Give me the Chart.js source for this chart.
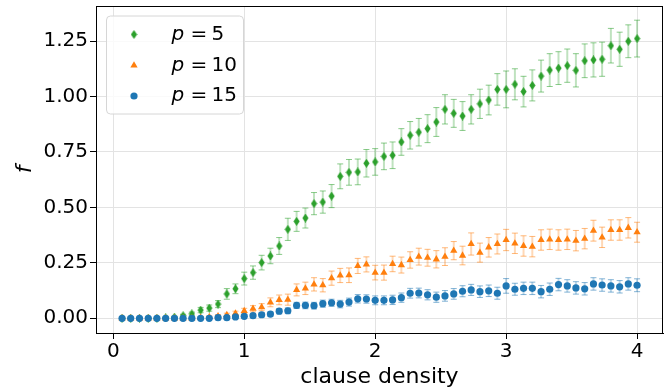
<!DOCTYPE html>
<html>
<head>
<meta charset="utf-8">
<script src="https://cdn.jsdelivr.net/npm/chart.js@4.4.1/dist/chart.umd.min.js"></script>
<style>
  html, body { margin: 0; padding: 0; background: #fff; }
  #wrap { width: 669px; height: 392px; }
</style>
</head>
<body>
<div id="wrap"><canvas id="myChart"></canvas></div>
<script>
// clause density (x)
const density = [
  0.067, 0.133, 0.200, 0.267, 0.333, 0.400, 0.467, 0.533, 0.600, 0.667,
  0.733, 0.800, 0.867, 0.933, 1.000, 1.067, 1.133, 1.200, 1.267, 1.333,
  1.400, 1.467, 1.533, 1.600, 1.667, 1.733, 1.800, 1.867, 1.933, 2.000,
  2.067, 2.133, 2.200, 2.267, 2.333, 2.400, 2.467, 2.533, 2.600, 2.667,
  2.733, 2.800, 2.867, 2.933, 3.000, 3.067, 3.133, 3.200, 3.267, 3.333,
  3.400, 3.467, 3.533, 3.600, 3.667, 3.733, 3.800, 3.867, 3.933, 4.000
];

const f_p5 = [
  0, 0, 0, 0, 0, 0.002, 0.005, 0.012, 0.020, 0.037,
  0.046, 0.064, 0.110, 0.133, 0.179, 0.206, 0.251, 0.281, 0.326, 0.401,
  0.437, 0.452, 0.517, 0.524, 0.551, 0.640, 0.658, 0.660, 0.699, 0.705,
  0.730, 0.735, 0.795, 0.825, 0.839, 0.855, 0.885, 0.942, 0.924, 0.912,
  0.942, 0.967, 0.984, 1.032, 1.032, 1.055, 1.022, 1.050, 1.092, 1.119,
  1.128, 1.139, 1.118, 1.161, 1.165, 1.168, 1.229, 1.213, 1.249, 1.261
];
const err_p5 = [
  0.002, 0.002, 0.002, 0.002, 0.002, 0.003, 0.004, 0.006, 0.008, 0.012,
  0.014, 0.016, 0.024, 0.022, 0.029, 0.030, 0.033, 0.035, 0.038, 0.050,
  0.045, 0.045, 0.050, 0.050, 0.052, 0.056, 0.058, 0.058, 0.062, 0.060,
  0.060, 0.060, 0.060, 0.062, 0.062, 0.063, 0.065, 0.066, 0.063, 0.065,
  0.066, 0.066, 0.067, 0.071, 0.083, 0.070, 0.069, 0.070, 0.072, 0.074,
  0.074, 0.075, 0.075, 0.076, 0.077, 0.077, 0.078, 0.077, 0.074, 0.083
];

const f_p10 = [
  0, 0, 0, 0, 0, 0, 0, 0, 0, 0.003,
  0.006, 0.010, 0.015, 0.022, 0.033, 0.043, 0.050, 0.072, 0.083, 0.084,
  0.128, 0.135, 0.153, 0.149, 0.181, 0.193, 0.194, 0.236, 0.243, 0.206,
  0.206, 0.245, 0.240, 0.263, 0.278, 0.273, 0.266, 0.278, 0.305, 0.283,
  0.335, 0.296, 0.320, 0.335, 0.353, 0.338, 0.326, 0.323, 0.353, 0.356,
  0.353, 0.356, 0.350, 0.359, 0.395, 0.365, 0.398, 0.398, 0.408, 0.388
];
const err_p10 = [
  0.002, 0.002, 0.002, 0.002, 0.002, 0.002, 0.002, 0.002, 0.002, 0.004,
  0.005, 0.007, 0.008, 0.010, 0.012, 0.014, 0.016, 0.020, 0.022, 0.025,
  0.027, 0.028, 0.030, 0.030, 0.032, 0.032, 0.033, 0.034, 0.034, 0.033,
  0.034, 0.035, 0.036, 0.037, 0.038, 0.038, 0.039, 0.040, 0.041, 0.042,
  0.050, 0.043, 0.044, 0.045, 0.048, 0.046, 0.046, 0.046, 0.046, 0.046,
  0.046, 0.046, 0.046, 0.046, 0.047, 0.046, 0.046, 0.046, 0.046, 0.045
];

const f_p15 = [
  0, 0, 0, 0, 0, 0, 0, 0, 0, 0,
  0, 0.003, 0.003, 0.006, 0.009, 0.012, 0.016, 0.019, 0.032, 0.034,
  0.058, 0.058, 0.057, 0.066, 0.070, 0.064, 0.073, 0.088, 0.087, 0.081,
  0.081, 0.083, 0.093, 0.113, 0.114, 0.106, 0.095, 0.101, 0.110, 0.122,
  0.128, 0.120, 0.124, 0.113, 0.146, 0.131, 0.135, 0.135, 0.120, 0.131,
  0.152, 0.146, 0.137, 0.133, 0.155, 0.150, 0.146, 0.142, 0.155, 0.149
];
const err_p15 = [
  0.002, 0.002, 0.002, 0.002, 0.002, 0.002, 0.002, 0.002, 0.002, 0.002,
  0.002, 0.005, 0.006, 0.007, 0.008, 0.009, 0.010, 0.010, 0.012, 0.013,
  0.014, 0.015, 0.015, 0.016, 0.016, 0.017, 0.018, 0.019, 0.019, 0.020,
  0.020, 0.021, 0.021, 0.022, 0.022, 0.023, 0.023, 0.024, 0.024, 0.025,
  0.025, 0.026, 0.026, 0.027, 0.033, 0.027, 0.028, 0.028, 0.028, 0.028,
  0.028, 0.028, 0.028, 0.028, 0.028, 0.028, 0.028, 0.028, 0.028, 0.029
];

const seriesLabels = ['5', '10', '15'];
const xTicks = [0, 1, 2, 3, 4];
const yTicks = [0, 0.25, 0.5, 0.75, 1.0, 1.25];

const FONT = "'DejaVu Sans', sans-serif";

// thin diamond like matplotlib 'd'
function thinDiamond(color) {
  const c = document.createElement('canvas');
  c.width = 7; c.height = 9;
  const x = c.getContext('2d');
  x.fillStyle = color;
  x.beginPath();
  x.moveTo(3.5, 0); x.lineTo(6.6, 4.5); x.lineTo(3.5, 9); x.lineTo(0.4, 4.5);
  x.closePath(); x.fill();
  return c;
}

const green = '#2ca02c', orange = '#ff7f0e', blue = '#1f77b4';

const pts = (ys) => density.map((d, i) => ({x: d, y: ys[i]}));

const datasets = [
  {label: seriesLabels[0], data: pts(f_p5), err: err_p5, color: green,
   pointStyle: thinDiamond(green), order: 3},
  {label: seriesLabels[1], data: pts(f_p10), err: err_p10, color: orange,
   pointStyle: 'triangle', pointRadius: 4.2, order: 2},
  {label: seriesLabels[2], data: pts(f_p15), err: err_p15, color: blue,
   pointStyle: 'circle', pointRadius: 3.6, order: 1},
];
datasets.forEach(ds => {
  ds.backgroundColor = ds.color;
  ds.borderColor = ds.color;
  ds.borderWidth = 0;
  ds.showLine = false;
});

function rgba(hex, a) {
  const n = parseInt(hex.slice(1), 16);
  return `rgba(${n >> 16},${(n >> 8) & 255},${n & 255},${a})`;
}

const errorBars = {
  id: 'errorBars',
  beforeDatasetsDraw(chart) {
    const ctx = chart.ctx, ys = chart.scales.y;
    chart.data.datasets.forEach((ds, di) => {
      const meta = chart.getDatasetMeta(di);
      ctx.save();
      meta.data.forEach((pt, i) => {
        const v = ds.data[i].y, e = ds.err[i];
        const top = ys.getPixelForValue(v + e), bot = ys.getPixelForValue(v - e);
        ctx.strokeStyle = rgba(ds.color, 0.3);
        ctx.lineWidth = 2;
        ctx.beginPath(); ctx.moveTo(pt.x, top); ctx.lineTo(pt.x, bot); ctx.stroke();
        ctx.strokeStyle = rgba(ds.color, 0.55);
        ctx.lineWidth = 1;
        ctx.beginPath();
        ctx.moveTo(pt.x - 3, top); ctx.lineTo(pt.x + 3, top);
        ctx.moveTo(pt.x - 3, bot); ctx.lineTo(pt.x + 3, bot);
        ctx.stroke();
      });
      ctx.restore();
    });
  }
};

const frameAndLegend = {
  id: 'frameAndLegend',
  afterDraw(chart) {
    const ctx = chart.ctx, a = chart.chartArea;
    ctx.save();
    ctx.strokeStyle = '#000';
    ctx.lineWidth = 1;
    ctx.strokeRect(Math.round(a.left) + 0.5, Math.round(a.top) + 0.5,
      Math.round(a.right - a.left) - 1, Math.round(a.bottom - a.top));

    // legend box
    const bx = a.left + 10.5, by = a.top + 10, bw = 137, bh = 98;
    ctx.fillStyle = 'rgba(255,255,255,0.8)';
    ctx.strokeStyle = '#d6d6d6';
    ctx.beginPath();
    ctx.roundRect(bx, by, bw, bh, 4);
    ctx.fill(); ctx.stroke();

    const rows = [28.5, 59.5, 90];
    chart.data.datasets.forEach((ds, i) => {
      const cy = a.top + rows[i];
      const mx = a.left + 38;
      ctx.fillStyle = ds.color;
      ctx.strokeStyle = ds.color;
      ctx.lineWidth = 0;
      Chart.helpers.drawPoint(ctx, {
        pointStyle: ds.pointStyle, radius: ds.pointRadius || 4, rotation: 0, borderWidth: 0
      }, mx, cy);
      ctx.fillStyle = '#000';
      ctx.textBaseline = 'middle';
      ctx.textAlign = 'left';
      const tx = a.left + 75.5;
      ctx.font = 'italic 20px ' + FONT;
      ctx.fillText('p', tx, cy);
      ctx.font = '20px ' + FONT;
      ctx.fillText('=', tx + 19, cy);
      ctx.fillText(ds.label, tx + 40, cy);
    });
    ctx.restore();
  }
};

new Chart(document.getElementById('myChart'), {
  type: 'scatter',
  data: {datasets: datasets},
  options: {
    responsive: true,
    maintainAspectRatio: false,
    animation: false,
    devicePixelRatio: 1,
    layout: {padding: {top: 6, right: 6, left: 0, bottom: 0}},
    plugins: {legend: {display: false}, tooltip: {enabled: false}},
    elements: {point: {radius: 4, borderWidth: 0}},
    scales: {
      x: {
        type: 'linear',
        min: -0.132, max: 4.198,
        afterBuildTicks: s => { s.ticks = xTicks.map(v => ({value: v})); },
        afterFit: s => { s.height = 59; s.paddingLeft = 0; s.paddingRight = 0; },
        ticks: {font: {family: FONT, size: 20}, color: '#000', padding: 1,
                maxRotation: 0, callback: v => String(v)},
        grid: {color: '#e3e3e3', lineWidth: 1, tickLength: 6, tickColor: '#000'},
        border: {display: true, color: '#000'},
        title: {display: true, text: 'clause density', color: '#000',
                font: {family: FONT, size: 22}, padding: {top: 0, bottom: 2}}
      },
      y: {
        type: 'linear',
        min: -0.0663, max: 1.408,
        afterBuildTicks: s => { s.ticks = yTicks.map(v => ({value: v})); },
        afterFit: s => { s.width = 96; s.paddingTop = 0; s.paddingBottom = 0; },
        ticks: {font: {family: FONT, size: 20}, color: '#000', padding: 2,
                callback: v => v.toFixed(2)},
        grid: {color: '#e3e3e3', lineWidth: 1, tickLength: 6, tickColor: '#000'},
        border: {display: true, color: '#000'},
        title: {display: true, text: 'f', color: '#000',
                font: {family: FONT, size: 22, style: 'italic'}, padding: {top: 12, bottom: 0}}
      }
    }
  },
  plugins: [errorBars, frameAndLegend]
});
</script>
</body>
</html>
